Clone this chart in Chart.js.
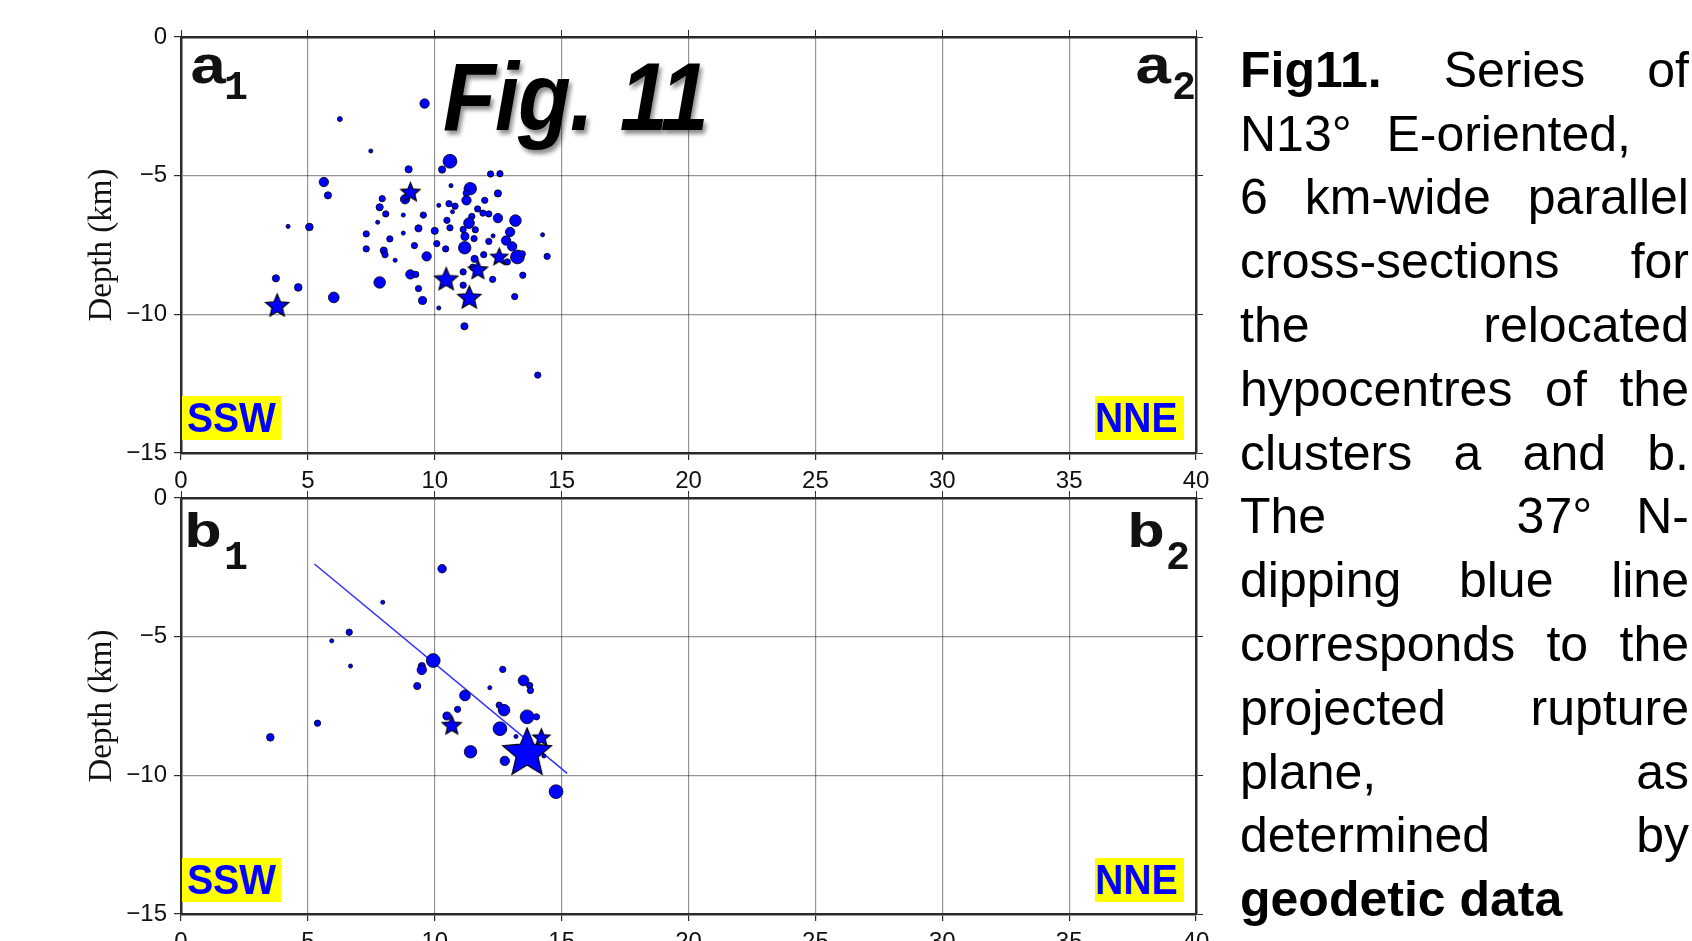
<!DOCTYPE html>
<html>
<head>
<meta charset="utf-8">
<script src="https://cdn.jsdelivr.net/npm/chart.js@4.4.1/dist/chart.umd.min.js"></script>
<style>
  body { margin: 0; background: #fff; }
  #page { position: relative; width: 1692px; height: 941px; overflow: hidden; background: #fff; }
  canvas { position: absolute; left: 0; }
  .lbl { position: absolute; font-family: 'Liberation Mono', 'Courier New', monospace; font-weight: bold; color: #111; white-space: nowrap; transform-origin: 0 50%; }
  .dir { position: absolute; background: #ffff00; height: 44px; line-height: 44px; font-family: 'Liberation Sans', Arial, sans-serif; font-weight: bold; font-size: 42px; color: #0000ff; overflow: hidden; white-space: nowrap; }
  .dir span { display: inline-block; transform: scaleX(0.93); transform-origin: 0 50%; }
  #fig { position: absolute; left: 443px; top: 49px; font-family: 'Liberation Sans', Arial, sans-serif; font-weight: bold; font-style: italic; font-size: 96px; line-height: 96px; word-spacing: 4px; letter-spacing: -1px; color: #000; white-space: nowrap; transform: scaleX(0.9); transform-origin: 0 50%; text-shadow: 3px 4px 5px rgba(0,0,0,0.45); }
  #cap { position: absolute; left: 1240px; top: 38.8px; width: 449px; font-family: 'Liberation Sans', Arial, sans-serif; font-size: 50px; line-height: 63.8px; color: #000; }
  #cap .ln { display: flex; justify-content: space-between; white-space: nowrap; height: 63.8px; }
</style>
</head>
<body>
<div id="page">
  <canvas id="cTop" width="1230" height="492" style="top:0px"></canvas>
  <canvas id="cBot" width="1230" height="481" style="top:460px"></canvas>

  <div id="fig">Fig. 11</div>

  <div class="lbl" style="left:189px;top:41.6px;font-size:54px;line-height:54px;transform:scaleX(1.2)">a</div>
  <div class="lbl" style="left:224px;top:69.3px;font-size:40px;line-height:40px">1</div>
  <div class="lbl" style="left:1134px;top:41.6px;font-size:54px;line-height:54px;transform:scaleX(1.2)">a</div>
  <div class="lbl" style="left:1172px;top:69.3px;font-size:40px;line-height:40px">2</div>
  <div class="lbl" style="left:184px;top:510px;font-size:49px;line-height:49px;transform:scaleX(1.3)">b</div>
  <div class="lbl" style="left:224px;top:539.3px;font-size:40px;line-height:40px">1</div>
  <div class="lbl" style="left:1127px;top:510px;font-size:49px;line-height:49px;transform:scaleX(1.3)">b</div>
  <div class="lbl" style="left:1166px;top:539.3px;font-size:40px;line-height:40px">2</div>

  <div class="dir" style="left:182px;top:396px;width:99px"><span style="margin-left:5px">SSW</span></div>
  <div class="dir" style="left:1095px;top:396px;width:89px"><span style="margin-left:0px">NNE</span></div>
  <div class="dir" style="left:182px;top:858px;width:99px"><span style="margin-left:5px">SSW</span></div>
  <div class="dir" style="left:1095px;top:858px;width:89px"><span style="margin-left:0px">NNE</span></div>

  <div id="cap">
    <div class="ln"><b>Fig11.</b><span>Series</span><span>of</span></div>
    <div class="ln" style="width:391px"><span>N13°</span><span>E-oriented,</span></div>
    <div class="ln"><span>6</span><span>km-wide</span><span>parallel</span></div>
    <div class="ln"><span>cross-sections</span><span>for</span></div>
    <div class="ln"><span>the</span><span>relocated</span></div>
    <div class="ln"><span>hypocentres</span><span>of</span><span>the</span></div>
    <div class="ln"><span>clusters</span><span>a</span><span>and</span><span>b.</span></div>
    <div class="ln"><span>The</span><span><span style="margin-right:44px">37°</span>N-</span></div>
    <div class="ln"><span>dipping</span><span>blue</span><span>line</span></div>
    <div class="ln"><span>corresponds</span><span>to</span><span>the</span></div>
    <div class="ln"><span>projected</span><span>rupture</span></div>
    <div class="ln"><span>plane,</span><span>as</span></div>
    <div class="ln"><span>determined</span><span>by</span></div>
    <div class="ln" style="display:block"><b>geodetic data</b></div>
  </div>
</div>

<script>
// axes
const xTicks = [0, 5, 10, 15, 20, 25, 30, 35, 40];
const yTicks = [0, -5, -10, -15];

// cluster a: hypocentres (distance km, depth km, magnitude)
const aDotX = [9.6, 6.26, 7.48, 10.6, 8.97, 10.29, 12.2, 12.57, 5.63, 5.79, 11.4, 11.24, 10.64, 12.49, 7.93, 8.83, 11.25, 11.97, 7.83, 8.07,
  10.16, 10.56, 10.8, 10.7, 11.69, 11.9, 12.13, 11.46, 9.55, 8.76, 12.49, 13.18, 11.35, 10.48, 7.75, 10.6, 4.22, 5.06, 9.36, 10.0,
  11.12, 11.6, 12.97, 14.25, 7.3, 8.76, 11.19, 11.55, 12.13, 12.3, 12.81, 13.05, 8.23, 10.08, 9.2, 11.18, 10.43, 7.3, 7.99, 8.04,
  11.93, 13.26, 13.45, 12.86, 14.43, 9.68, 8.44, 11.57, 11.12, 11.5, 9.04, 9.25, 13.47, 12.28, 7.83, 3.74, 4.62, 11.12, 9.36, 6.02,
  9.52, 13.15, 10.16, 11.17, 14.06];
const aDotY = [-2.4, -2.96, -4.11, -4.48, -4.77, -4.78, -4.94, -4.93, -5.23, -5.71, -5.47, -5.63, -5.36, -5.64, -5.83, -5.85, -5.89, -5.89, -6.14, -6.38,
  -6.07, -6.01, -6.1, -6.3, -6.2, -6.35, -6.38, -6.47, -6.42, -6.42, -6.53, -6.62, -6.71, -6.61, -6.68, -6.88, -6.83, -6.85, -6.9, -6.99,
  -6.94, -6.95, -7.03, -7.13, -7.1, -7.07, -7.19, -7.27, -7.37, -7.17, -7.34, -7.55, -7.28, -7.45, -7.52, -7.6, -7.64, -7.64, -7.7, -7.85,
  -7.85, -7.93, -7.82, -8.11, -7.91, -7.91, -8.05, -8.0, -8.47, -8.3, -8.56, -8.56, -8.59, -8.74, -8.85, -8.7, -9.03, -8.95, -9.07, -9.39,
  -9.5, -9.36, -9.77, -10.43, -12.19];
const aDotMag = [1.5, 0.5, 0.3, 2.5, 1.0, 1.0, 0.8, 0.8, 1.5, 1.0, 2.2, 0.8, 0.3, 1.0, 0.8, 1.5, 1.5, 0.8, 1.0, 0.8,
  0.3, 0.8, 0.8, 0.3, 0.8, 0.8, 0.8, 0.8, 0.8, 0.3, 1.5, 2.0, 1.8, 0.8, 0.3, 0.8, 0.3, 1.1, 1.0, 1.0,
  0.8, 0.8, 1.5, 0.3, 0.8, 0.3, 1.2, 0.8, 0.8, 0.3, 1.5, 1.5, 0.8, 0.8, 0.8, 2.2, 0.8, 0.8, 1.0, 0.8,
  0.8, 2.5, 0.8, 0.8, 0.8, 1.5, 0.3, 1.0, 0.8, 0.8, 1.5, 0.8, 0.8, 0.8, 2.0, 1.0, 1.1, 0.8, 0.8, 1.8,
  1.2, 0.8, 0.3, 1.0, 0.8];
const aStarX = [9.04, 12.54, 11.7, 10.45, 11.36, 3.79];
const aStarY = [-5.59, -7.92, -8.39, -8.73, -9.39, -9.68];
const aStarMag = [2.5, 2.2, 2.5, 3.0, 3.0, 3.0];

// cluster b
const bDotX = [10.29, 7.95, 6.63, 5.94, 6.68, 9.94, 9.49, 9.49, 9.31, 12.68, 13.5, 13.74, 13.77, 12.17, 11.19, 10.9, 12.54, 12.73, 13.64, 14.01,
  10.48, 5.38, 3.52, 12.57, 13.2, 11.41, 12.76, 14.3, 14.78];
const bDotY = [-2.55, -3.76, -4.84, -5.15, -6.06, -5.86, -6.06, -6.2, -6.78, -6.18, -6.58, -6.76, -6.94, -6.84, -7.12, -7.62, -7.47, -7.65, -7.89, -7.89,
  -7.86, -8.12, -8.63, -8.32, -8.6, -9.15, -9.48, -9.3, -10.59];
const bDotMag = [1.3, 0.3, 0.8, 0.3, 0.3, 2.5, 1.0, 1.5, 1.0, 0.8, 1.8, 0.8, 0.8, 0.3, 1.8, 0.8, 0.8, 2.0, 2.5, 0.8,
  1.2, 0.8, 1.1, 2.5, 0.3, 2.2, 1.5, 0.3, 2.5];
const bStarX = [10.67, 14.2, 13.64];
const bStarY = [-8.19, -8.63, -9.16];
const bStarMag = [2.5, 2.2, 5.0];

// projected rupture plane (37 deg N-dipping)
const planeX = [5.26, 15.22];
const planeY = [-2.38, -9.93];

const BLUE = '#0000ff';
const AXIS = '#2b2b2b';
const GRID = 'rgba(0,0,0,0.42)';
const SANS = "'Liberation Sans', Arial, sans-serif";
const SERIF = "'Liberation Serif', 'Times New Roman', serif";

function dotRadius(m) { return 1.4 + 2.2 * m; }
function starRadius(m) { return 4 * Math.pow(1.45, m); }
function pts(xs, ys) { return xs.map((x, i) => ({ x: x, y: ys[i] })); }
function setTicks(vals) { return s => { s.ticks = vals.map(v => ({ value: v })); }; }

function starImage(r) {
  const size = Math.ceil(2 * r + 4);
  const c = document.createElement('canvas');
  c.width = size; c.height = size;
  const g = c.getContext('2d');
  const cx = size / 2, cy = size / 2 + r * 0.06;
  g.beginPath();
  for (let i = 0; i < 10; i++) {
    const rad = i % 2 ? r * 0.45 : r;
    const a = -Math.PI / 2 + i * Math.PI / 5;
    g.lineTo(cx + rad * Math.cos(a), cy + rad * Math.sin(a));
  }
  g.closePath();
  g.fillStyle = BLUE;
  g.fill();
  g.lineWidth = 1.2;
  g.strokeStyle = '#000';
  g.stroke();
  return c;
}

function makePanel(id, p) {
  const starImgs = p.starMag.map(m => starImage(starRadius(m)));
  const datasets = [
    {
      label: 'stars', data: pts(p.starX, p.starY), order: 0,
      pointStyle: c => starImgs[c.dataIndex],
      pointRadius: c => starRadius(p.starMag[c.dataIndex])
    },
    {
      label: 'events', data: pts(p.dotX, p.dotY), order: 1,
      pointRadius: c => dotRadius(p.dotMag[c.dataIndex]),
      backgroundColor: BLUE, borderColor: '#000', borderWidth: 0.8
    }
  ];
  if (p.lineX) {
    datasets.push({
      label: 'rupture plane', data: pts(p.lineX, p.lineY), order: 2,
      showLine: true, pointRadius: 0, borderColor: '#3434ff', borderWidth: 1.6
    });
  }

  const tickFont = { family: SANS, size: 24 };
  const border = { color: AXIS, width: 2.5 };

  return new Chart(document.getElementById(id), {
    type: 'scatter',
    data: { datasets: datasets },
    options: {
      responsive: false,
      animation: false,
      devicePixelRatio: 1,
      layout: { padding: { left: 0, right: p.padR, top: p.padT, bottom: 0 } },
      plugins: { legend: { display: false }, tooltip: { enabled: false } },
      scales: {
        x: {
          type: 'linear', position: 'bottom', min: 0, max: 40,
          afterBuildTicks: setTicks(xTicks),
          afterFit: s => { s.height = p.xH; },
          ticks: { font: tickFont, color: '#111', padding: p.xPad, maxRotation: 0, autoSkip: false },
          grid: { color: GRID, lineWidth: 1.2, tickLength: 7, tickColor: AXIS },
          border: border
        },
        x2: {
          type: 'linear', position: 'top', min: 0, max: 40,
          afterBuildTicks: setTicks(xTicks),
          afterFit: s => { s.height = 8; },
          ticks: { display: false },
          grid: { drawOnChartArea: false, tickLength: 7, color: AXIS },
          border: border
        },
        y: {
          type: 'linear', position: 'left', min: -15, max: 0,
          afterBuildTicks: setTicks(yTicks),
          afterFit: s => { s.width = 181; },
          ticks: { font: tickFont, color: '#111', padding: 7, callback: v => String(v).replace('-', '\u2212') },
          title: { display: true, text: 'Depth (km)', font: { family: SERIF, size: 33 }, color: '#111', padding: { top: 83, bottom: 0 } },
          grid: { color: GRID, lineWidth: 1.2, tickLength: 7, tickColor: AXIS },
          border: border
        },
        y2: {
          type: 'linear', position: 'right', min: -15, max: 0,
          afterBuildTicks: setTicks(yTicks),
          afterFit: s => { s.width = 8; },
          ticks: { display: false },
          grid: { drawOnChartArea: false, tickLength: 7, color: AXIS },
          border: border
        }
      }
    }
  });
}

makePanel('cTop', {
  dotX: aDotX, dotY: aDotY, dotMag: aDotMag,
  starX: aStarX, starY: aStarY, starMag: aStarMag,
  padT: 29, padR: 26, xH: 39, xPad: 7
});

makePanel('cBot', {
  dotX: bDotX, dotY: bDotY, dotMag: bDotMag,
  starX: bStarX, starY: bStarY, starMag: bStarMag,
  lineX: planeX, lineY: planeY,
  padT: 30, padR: 26, xH: 27, xPad: 7
});
</script>
</body>
</html>
